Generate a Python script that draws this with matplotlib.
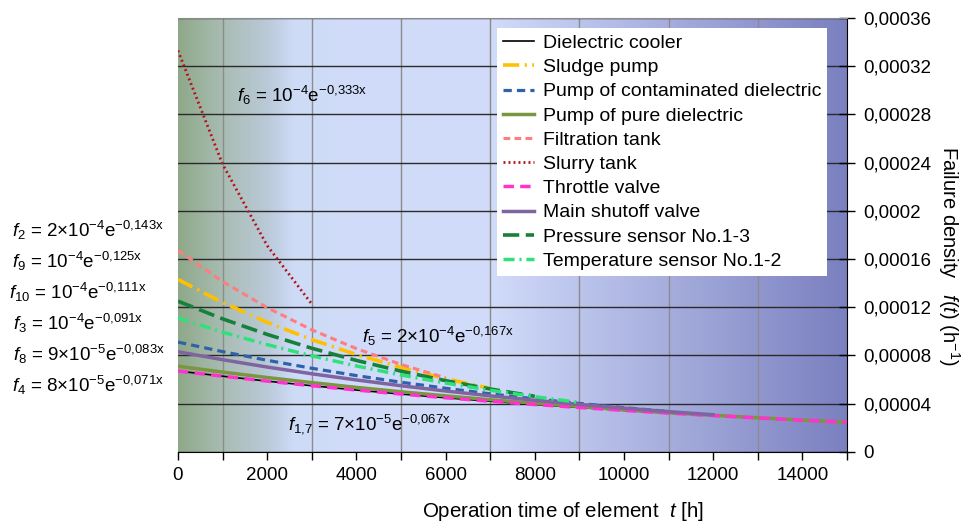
import numpy as np
import matplotlib
matplotlib.use('Agg')
import matplotlib.pyplot as plt
from matplotlib.ticker import FixedLocator, FixedFormatter

plt.rcParams['font.family'] = ['Liberation Sans', 'DejaVu Sans']
plt.rcParams['mathtext.fontset'] = 'custom'
plt.rcParams['mathtext.rm'] = 'Liberation Sans'
plt.rcParams['mathtext.it'] = 'Liberation Sans:italic'
plt.rcParams['mathtext.bf'] = 'Liberation Sans:bold'

# operation time, h (points every 1000 h)
hours = [0, 1000, 2000, 3000, 4000, 5000, 6000, 7000, 8000, 9000,
         10000, 11000, 12000, 13000, 14000, 15000]

# failure density, in units of 1e-5 1/h
dielectric_cooler = [6.70, 6.27, 5.86, 5.48, 5.12, 4.79, 4.48, 4.19, 3.92, 3.67,
                     3.43, 3.21, 3.00, 2.80, 2.62, 2.45]
sludge_pump = [14.30, 12.39, 10.74, 9.31, 8.07, 7.00, 6.06, 5.26]
pump_contaminated = [9.10, 8.31, 7.59, 6.93, 6.32, 5.77, 5.27, 4.81, 4.39, 4.01,
                     3.66, 3.34]
pump_pure = [7.10, 6.61, 6.16, 5.74, 5.34, 4.98, 4.64, 4.32, 4.02, 3.75,
             3.49, 3.25, 3.03, 2.82, 2.63, 2.45]
filtration_tank = [16.70, 14.13, 11.96, 10.12, 8.56, 7.25, 6.13]
slurry_tank = [33.30, 23.87, 17.11, 12.26]
throttle_valve = [6.70, 6.27, 5.86, 5.48, 5.12, 4.79, 4.48, 4.19, 3.92, 3.67,
                  3.43, 3.21, 3.00, 2.80, 2.62, 2.45]
main_shutoff = [8.30, 7.64, 7.03, 6.47, 5.96, 5.48, 5.04, 4.64, 4.27, 3.93,
                3.62, 3.33, 3.07]
pressure_sensor = [12.50, 11.03, 9.74, 8.59, 7.58, 6.69, 5.90, 5.21, 4.60]
temperature_sensor = [11.10, 9.93, 8.89, 7.96, 7.12, 6.37, 5.70, 5.10, 4.57, 4.09]

y_ticks = [0, 0.00004, 0.00008, 0.00012, 0.00016, 0.0002, 0.00024, 0.00028,
           0.00032, 0.00036]
y_tick_labels = ['0', '0,00004', '0,00008', '0,00012', '0,00016', '0,0002',
                 '0,00024', '0,00028', '0,00032', '0,00036']
x_ticks = [0, 2000, 4000, 6000, 8000, 10000, 12000, 14000]

fig = plt.figure(figsize=(9.64, 5.22), dpi=100)
ax = fig.add_axes([0.1846, 0.1346, 0.6940, 0.8309])

# background gradient (green-grey -> light blue -> slate blue)
stops = [0, 1000, 2000, 2600, 7000, 15000]
cols = np.array([[0.56, 0.66, 0.54],
                 [0.66, 0.74, 0.70],
                 [0.73, 0.79, 0.85],
                 [0.81, 0.86, 0.97],
                 [0.82, 0.86, 0.98],
                 [0.48, 0.50, 0.75]])
xs = np.linspace(0, 15000, 600)
grad = np.stack([np.interp(xs, stops, cols[:, i]) for i in range(3)], axis=-1)
ax.imshow(grad[np.newaxis, :, :], extent=[0, 15000, 0, 0.00036],
          aspect='auto', zorder=0, interpolation='bilinear')

series = [
    ('Dielectric cooler', dielectric_cooler, 'black', None, 1.2),
    ('Sludge pump', sludge_pump, '#FFC000', (0, (4.5, 1.5, 0.6, 1.5)), 2.6),
    ('Pump of contaminated dielectric', pump_contaminated, '#2F62A8', (0, (2.6, 1.6)), 2.3),
    ('Pump of pure dielectric', pump_pure, '#7A9640', None, 2.5),
    ('Filtration tank', filtration_tank, '#FF7C80', (0, (2.2, 1.4)), 2.2),
    ('Slurry tank', slurry_tank, '#B3141E', (0, (0.7, 1.1)), 2.0),
    ('Throttle valve', throttle_valve, '#FF33CC', (0, (3.0, 1.8)), 2.5),
    ('Main shutoff valve', main_shutoff, '#8064A2', None, 2.5),
    ('Pressure sensor No.1-3', pressure_sensor, '#17803A', (0, (4.5, 1.8)), 2.6),
    ('Temperature sensor No.1-2', temperature_sensor, '#2EE27A', (0, (3.2, 1.4, 0.6, 1.4)), 2.5),
]

for name, vals, color, dash, lw in series:
    x = hours[:len(vals)]
    y = np.array(vals) * 1e-5
    line, = ax.plot(x, y, color=color, lw=lw, label=name, zorder=3)
    if dash is not None:
        line.set_linestyle(dash)

ax.set_xlim(0, 15000)
ax.set_ylim(0, 0.00036)
ax.set_axisbelow(True)

ax.xaxis.set_major_locator(FixedLocator(x_ticks))
ax.xaxis.set_minor_locator(FixedLocator(hours))
ax.yaxis.tick_right()
ax.yaxis.set_major_locator(FixedLocator(y_ticks))
ax.yaxis.set_major_formatter(FixedFormatter(y_tick_labels))

ax.tick_params(axis='x', which='both', direction='out', length=6, width=1,
               labelsize=13.5, pad=5)
ax.tick_params(axis='y', which='major', direction='inout', length=12, width=1,
               labelsize=13.5, pad=6, right=True, left=False)

ax.grid(axis='x', which='minor', color='#8c8c8c', lw=1.0)
ax.grid(axis='y', which='major', color='#2a2a2a', lw=1.0)

ax.spines['left'].set_visible(False)
ax.spines['top'].set_color('#8c8c8c')
ax.spines['right'].set_color('black')
ax.spines['bottom'].set_color('black')

leg = ax.legend(loc='upper left', bbox_to_anchor=(0.477, 0.976), fontsize=14,
                frameon=True, fancybox=False, framealpha=1, edgecolor='white',
                borderaxespad=0, borderpad=0.3, labelspacing=0.34,
                handlelength=1.6, handletextpad=0.45)
leg.get_frame().set_linewidth(0)
leg.set_zorder(5)

# equations inside the plot
ax.text(1320, 0.000296, r'$f_{\mathit{6}}$ = 10$^{-4}$e$^{\mathrm{-0{,}333x}}$',
        fontsize=13.5, ha='left', va='center', zorder=4)
ax.text(4120, 0.000096, r'$f_{\mathit{5}}$ = 2×10$^{-4}$e$^{\mathrm{-0{,}167x}}$',
        fontsize=13.5, ha='left', va='center', zorder=4)
ax.text(2470, 0.0000228, r'$f_{\mathit{1{,}7}}$ = 7×10$^{-5}$e$^{\mathrm{-0{,}067x}}$',
        fontsize=13.5, ha='left', va='center', zorder=4)

# equations to the left of the plot
left_eqs = [
    (0.012, 230, r'$f_{\mathit{2}}$ = 2×10$^{-4}$e$^{\mathrm{-0{,}143x}}$'),
    (0.012, 261, r'$f_{\mathit{9}}$ = 10$^{-4}$e$^{\mathrm{-0{,}125x}}$'),
    (0.009, 292, r'$f_{\mathit{10}}$ = 10$^{-4}$e$^{\mathrm{-0{,}111x}}$'),
    (0.014, 323, r'$f_{\mathit{3}}$ = 10$^{-4}$e$^{\mathrm{-0{,}091x}}$'),
    (0.014, 354, r'$f_{\mathit{8}}$ = 9×10$^{-5}$e$^{\mathrm{-0{,}083x}}$'),
    (0.012, 385, r'$f_{\mathit{4}}$ = 8×10$^{-5}$e$^{\mathrm{-0{,}071x}}$'),
]
for fx, py, txt in left_eqs:
    fig.text(fx, 1 - py / 522, txt, fontsize=13.5, ha='left', va='center')

fig.text(0.584, 0.020, r'Operation time of element  $t$ [h]', fontsize=14.8,
         ha='center', va='center')
fig.text(0.984, 0.510, r'Failure density   $f(t)$ (h$^{-1}$)', fontsize=14.5,
         ha='center', va='center', rotation=270)

fig.savefig('out.png', dpi=100)
plt.close(fig)
